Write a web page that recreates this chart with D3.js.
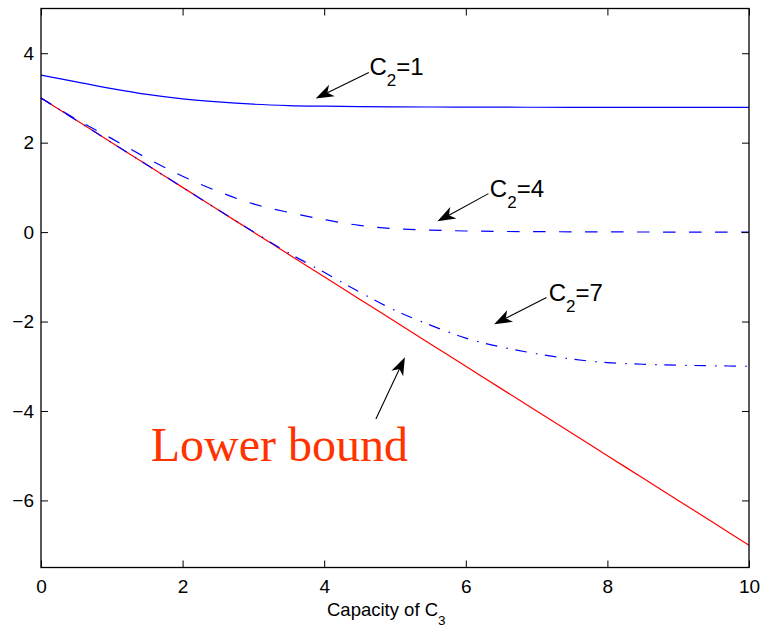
<!DOCTYPE html>
<html>
<head>
<meta charset="utf-8">
<script src="https://cdn.jsdelivr.net/npm/d3@7"></script>
<style>
  html, body { margin: 0; padding: 0; background: #fff; }
  svg { display: block; }
</style>
</head>
<body>
<script>
// ---------- data ----------
const capacityC3 = [0,0.5,1,1.5,2,2.5,3,3.5,4,4.5,5,5.5,6,6.5,7,7.5,8,8.5,9,9.5,10];
const seriesC2_1 = [3.51,3.36,3.21,3.08,2.98,2.91,2.86,2.83,2.815,2.805,2.8,2.797,2.795,2.793,2.792,2.791,2.79,2.79,2.79,2.79,2.79];
const seriesC2_4 = [3.0,2.52,2.09,1.65,1.25,0.91,0.63,0.44,0.28,0.15,0.075,0.045,0.025,0.015,0.01,0.006,0.004,0.002,0.001,0,0];
const seriesC2_7 = [3.0,2.5,2.0,1.5,1.0,0.5,0.01,-0.47,-0.9,-1.34,-1.75,-2.08,-2.37,-2.57,-2.72,-2.84,-2.92,-2.955,-2.975,-2.99,-3.0];
const lowerBound = [3,2.5,2,1.5,1,0.5,0,-0.5,-1,-1.5,-2,-2.5,-3,-3.5,-4,-4.5,-5,-5.5,-6,-6.5,-7];
const xTicks = [0,2,4,6,8,10];
const yTicks = [-6,-4,-2,0,2,4];
const seriesLabels = ["1","4","7"];

// ---------- layout ----------
const W = 761, H = 630;
const mLeft = 41, mRight = 749, mTop = 8.5, mBottom = 567.5;
const tickFont = "Liberation Sans, Arial, Helvetica, sans-serif";

const x = d3.scaleLinear().domain([0,10]).range([mLeft, mRight]);
const y = d3.scaleLinear().domain([-7.5,5]).range([mBottom, mTop]);

const svg = d3.select("body").append("svg").attr("width", W).attr("height", H);

const line = d3.line().x((d,i)=>x(capacityC3[i])).y(d=>y(d)).curve(d3.curveCatmullRom.alpha(0.5));

// lines
svg.append("path").datum(lowerBound).attr("d", line)
  .attr("fill","none").attr("stroke","#ff0000").attr("stroke-width",1.2);
svg.append("path").datum(seriesC2_1).attr("d", line)
  .attr("fill","none").attr("stroke","#0000ff").attr("stroke-width",1.2);
svg.append("path").datum(seriesC2_4).attr("d", line)
  .attr("fill","none").attr("stroke","#0000ff").attr("stroke-width",1.2)
  .attr("stroke-dasharray","12.5,13.5");
svg.append("path").datum(seriesC2_7).attr("d", line)
  .attr("fill","none").attr("stroke","#0000ff").attr("stroke-width",1.2)
  .attr("stroke-dasharray","11.6,9.3,1.5,7.6");

// axes
function styleAxis(g){
  g.select(".domain").remove();
  g.selectAll(".tick line").attr("stroke","#000").attr("stroke-width",1);
  g.selectAll("text").attr("font-family", tickFont).attr("font-size", 19).attr("fill","#000");
}
svg.append("g").attr("transform",`translate(0,${mBottom})`)
  .call(d3.axisBottom(x).tickValues(xTicks).tickSize(-7).tickPadding(12).tickFormat(d3.format("d")))
  .call(styleAxis);
svg.append("g").attr("transform",`translate(0,${mTop})`)
  .call(d3.axisTop(x).tickValues(xTicks).tickSize(-7).tickFormat(""))
  .call(styleAxis);
svg.append("g").attr("transform",`translate(${mLeft},0)`)
  .call(d3.axisLeft(y).tickValues(yTicks).tickSize(-7).tickPadding(7).tickFormat(d3.format("d")))
  .call(styleAxis);
svg.append("g").attr("transform",`translate(${mRight},0)`)
  .call(d3.axisRight(y).tickValues(yTicks).tickSize(-7).tickFormat(""))
  .call(styleAxis);

// frame
svg.append("rect").attr("x",mLeft).attr("y",mTop).attr("width",mRight-mLeft).attr("height",mBottom-mTop)
  .attr("fill","none").attr("stroke","#000").attr("stroke-width",1.3);

// x label
const xl = svg.append("text").attr("x", 327).attr("y", 616)
  .attr("text-anchor","start").attr("font-family",tickFont).attr("font-size",18.5).attr("fill","#000");
xl.append("tspan").text("Capacity of C");
xl.append("tspan").attr("dy",9).attr("font-size",13.5).text("3");

// arrows
function arrow(tx, ty, hx, hy){
  const x0=x(tx), y0=y(ty), x1=x(hx), y1=y(hy);
  const dx=x1-x0, dy=y1-y0, len=Math.hypot(dx,dy);
  const ux=dx/len, uy=dy/len, nx=-uy, ny=ux;
  const L=18, w=6.5, notch=5;
  const bx=x1-ux*L, by=y1-uy*L;
  const mx=x1-ux*(L-notch), my=y1-uy*(L-notch);
  svg.append("line").attr("x1",x0).attr("y1",y0).attr("x2",mx).attr("y2",my)
    .attr("stroke","#000").attr("stroke-width",1.1);
  svg.append("path")
    .attr("d",`M${x1},${y1}L${bx+nx*w},${by+ny*w}L${mx},${my}L${bx-nx*w},${by-ny*w}Z`)
    .attr("fill","#000");
}
function c2label(px, py, val){
  const t = svg.append("text").attr("x",x(px)).attr("y",y(py))
    .attr("font-family",tickFont).attr("font-size",24).attr("fill","#000");
  t.append("tspan").text("C");
  t.append("tspan").attr("dy",11).attr("font-size",17).text("2");
  t.append("tspan").attr("dy",-11).text("=" + val);
}
arrow(4.63,3.57, 3.88,2.99);
c2label(4.64,3.51, seriesLabels[0]);
arrow(6.32,0.86, 5.6,0.24);
c2label(6.34,0.78, seriesLabels[1]);
arrow(7.14,-1.46, 6.4,-2.06);
c2label(7.17,-1.53, seriesLabels[2]);

arrow(4.73,-4.18, 5.14,-2.80);
svg.append("text").attr("x",x(1.55)).attr("y",y(-5.11))
  .attr("font-family","Liberation Serif, Times New Roman, serif").attr("font-size",48)
  .attr("fill","#ff3300").text("Lower bound");
</script>
</body>
</html>
